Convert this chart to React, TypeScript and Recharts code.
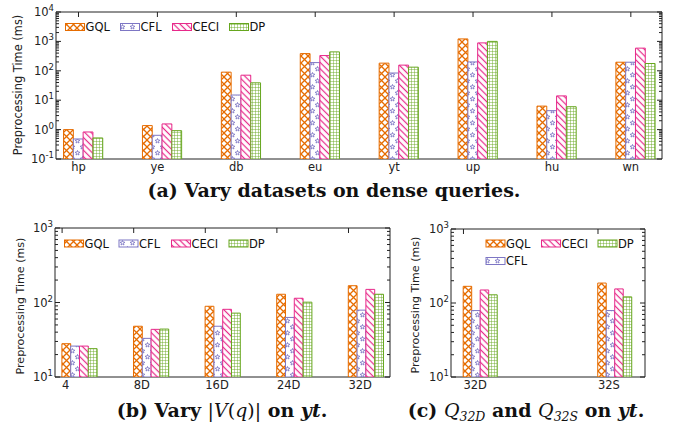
import React from 'react';
import { BarChart, Bar, XAxis, YAxis, ReferenceArea } from 'recharts';

// (a) dense queries, per dataset
const datasets = ['hp', 'ye', 'db', 'eu', 'yt', 'up', 'hu', 'wn'];
const gqlDense = [1.0, 1.37, 90, 385, 182, 1215, 6.3, 196];
const cflDense = [0.48, 0.64, 15, 190, 84, 200, 4.4, 196];
const ceciDense = [0.83, 1.56, 71, 330, 156, 890, 14, 590];
const dpDense = [0.52, 0.92, 39, 440, 133, 1000, 6.0, 177];

// (b) query size on yt
const querySizes = ['4', '8D', '16D', '24D', '32D'];
const gqlSize = [28, 48, 89, 129, 168];
const cflSize = [26, 33, 48, 63, 79];
const ceciSize = [26, 43.6, 81, 114, 150];
const dpSize = [24, 44, 72, 101, 129];

// (c) dense vs sparse on yt
const querySets = ['32D', '32S'];
const gqlSet = [168, 186];
const cflSet = [79, 79];
const ceciSet = [150, 155];
const dpSet = [129, 121];

const series = [
  { key: 'gql', name: 'GQL', color: '#e66c00' },
  { key: 'cfl', name: 'CFL', color: '#7d76c4' },
  { key: 'ceci', name: 'CECI', color: '#e7298a' },
  { key: 'dp', name: 'DP', color: '#66a61e' },
];

const toRows = (names: string[], g: number[], c: number[], e: number[], d: number[]) =>
  names.map((name, i) => ({ i, name, gql: g[i], cfl: c[i], ceci: e[i], dp: d[i] }));

const rowsA = toRows(datasets, gqlDense, cflDense, ceciDense, dpDense);
const rowsB = toRows(querySizes, gqlSize, cflSize, ceciSize, dpSize);
const rowsC = toRows(querySets, gqlSet, cflSet, ceciSet, dpSet);

const logTicks = (lo: number, hi: number) => {
  const out: number[] = [];
  for (let e = lo; e < hi; e++) for (let m = 1; m < 10; m++) out.push(+(m * Math.pow(10, e)).toPrecision(3));
  out.push(Math.pow(10, hi));
  return out;
};

const FONT = 'DejaVu Sans';
const AXIS = '#222';

const starPts = (cx: number, cy: number, R: number, r: number) => {
  const p: string[] = [];
  for (let k = 0; k < 10; k++) {
    const a = -Math.PI / 2 + (k * Math.PI) / 5;
    const rr = k % 2 ? r : R;
    p.push(`${(cx + rr * Math.cos(a)).toFixed(2)},${(cy + rr * Math.sin(a)).toFixed(2)}`);
  }
  return p.join(' ');
};

const Patterns = () => (
  <svg width={0} height={0} style={{ position: 'absolute' }}>
    <defs>
      <pattern id="pat-gql" patternUnits="userSpaceOnUse" width={7} height={7}>
        <rect width={7} height={7} fill="#fff" />
        <path d="M0,0 L7,7 M7,0 L0,7" stroke="#e66c00" strokeWidth={1.3} />
      </pattern>
      <pattern id="pat-cfl" patternUnits="userSpaceOnUse" width={10} height={12}>
        <rect width={10} height={12} fill="#fff" />
        <polygon points={starPts(2.5, 3, 2.5, 1.1)} fill="none" stroke="#7d76c4" strokeWidth={0.9} />
        <polygon points={starPts(7.5, 9, 2.5, 1.1)} fill="none" stroke="#7d76c4" strokeWidth={0.9} />
      </pattern>
      <pattern id="pat-ceci" patternUnits="userSpaceOnUse" width={4.5} height={4.5} patternTransform="rotate(-45)">
        <rect width={4.5} height={4.5} fill="#fff" />
        <line x1={2.25} y1={0} x2={2.25} y2={4.5} stroke="#e7298a" strokeWidth={1.2} />
      </pattern>
      <pattern id="pat-dp" patternUnits="userSpaceOnUse" width={3} height={3}>
        <rect width={3} height={3} fill="#fff" />
        <path d="M0,0 L3,0 M0,0 L0,3" stroke="#66a61e" strokeWidth={0.9} />
      </pattern>
    </defs>
  </svg>
);

type Frame = { left: number; right: number; top: number; bottom: number };

const makeYTick = (f: Frame) => (props: any) => {
  const { y, payload } = props;
  const e = Math.log10(payload.value);
  const major = Math.abs(e - Math.round(e)) < 1e-6;
  const len = major ? 5 : 3;
  return (
    <g>
      <line x1={f.left} x2={f.left + len} y1={y} y2={y} stroke={AXIS} />
      <line x1={f.right} x2={f.right - len} y1={y} y2={y} stroke={AXIS} />
      {major && (
        <text x={f.left - 2} y={y + 4} textAnchor="end" fontSize={11.5} fill={AXIS} fontFamily={FONT}>
          10
          <tspan dy={-5} fontSize={8.5}>
            {Math.round(e)}
          </tspan>
        </text>
      )}
    </g>
  );
};

const makeXTick = (f: Frame, names: string[], shift: number, anchor: 'middle' | 'start') => (props: any) => {
  const { x, payload } = props;
  const lx = x + shift;
  return (
    <g>
      <line x1={lx} x2={lx} y1={f.top} y2={f.top + 5} stroke={AXIS} />
      <text x={lx} y={f.bottom + 12} textAnchor={anchor} fontSize={11.5} fill={AXIS} fontFamily={FONT}>
        {names[payload.value]}
      </text>
    </g>
  );
};

type PanelProps = {
  rows: any[];
  names: string[];
  frame: Frame;
  boxLeft: number;
  width: number;
  height: number;
  xDomain: [number, number];
  yExp: [number, number];
  barSize: number;
  labelShift: number;
  labelAnchor: 'middle' | 'start';
};

const Panel = ({ rows, names, frame, boxLeft, width, height, xDomain, yExp, barSize, labelShift, labelAnchor }: PanelProps) => {
  const yMin = Math.pow(10, yExp[0]);
  const yMax = Math.pow(10, yExp[1]);
  // frame is in page pixels; the chart's svg starts at boxLeft
  const local: Frame = { ...frame, left: frame.left - boxLeft, right: frame.right - boxLeft };
  return (
    <div style={{ position: 'absolute', left: boxLeft, top: 0 }}>
      <BarChart
        width={width}
        height={height}
        data={rows}
        barGap={0}
        margin={{ top: frame.top, right: width - local.right, bottom: 0, left: 0 }}
      >
        <XAxis
          dataKey="i"
          type="number"
          domain={xDomain}
          allowDataOverflow
          ticks={names.map((_, i) => i)}
          interval={0}
          axisLine={false}
          tickLine={false}
          height={height - frame.bottom}
          tick={makeXTick(local, names, labelShift, labelAnchor)}
        />
        <YAxis
          type="number"
          scale="log"
          domain={[yMin, yMax]}
          allowDataOverflow
          ticks={logTicks(yExp[0], yExp[1])}
          interval={0}
          axisLine={false}
          tickLine={false}
          width={local.left}
          tick={makeYTick(local)}
        />
        {series.map((s) => (
          <Bar
            key={s.key}
            dataKey={s.key}
            barSize={barSize}
            fill={`url(#pat-${s.key})`}
            stroke={s.color}
            strokeWidth={1}
            isAnimationActive={false}
          />
        ))}
        <ReferenceArea
          x1={xDomain[0]}
          x2={xDomain[1]}
          y1={yMin}
          y2={yMax}
          fill="none"
          fillOpacity={0}
          stroke={AXIS}
          strokeWidth={1}
          ifOverflow="visible"
        />
      </BarChart>
    </div>
  );
};

const Swatch = ({ x, y, k, color }: { x: number; y: number; k: string; color: string }) => (
  <rect x={x} y={y} width={19} height={7} fill={`url(#pat-${k})`} stroke={color} strokeWidth={1} />
);

const LegendItem = ({ x, y, idx }: { x: number; y: number; idx: number }) => {
  const s = series[idx];
  return (
    <g>
      <Swatch x={x} y={y} k={s.key} color={s.color} />
      <text x={x + 20} y={y + 7.5} fontSize={11.5} fontFamily={FONT} fill="#111">
        {s.name}
      </text>
    </g>
  );
};

const YTitle = ({ x, y, size }: { x: number; y: number; size: number }) => (
  <text transform={`translate(${x},${y}) rotate(-90)`} textAnchor="middle" fontSize={size} fontFamily={FONT} fill="#222">
    Preprocessing Time (ms)
  </text>
);

const frameA: Frame = { left: 56, right: 662, top: 12, bottom: 159 };
const frameB: Frame = { left: 55, right: 390, top: 228, bottom: 377 };
const frameC: Frame = { left: 451, right: 645, top: 229, bottom: 377 };

const CAP = { fontFamily: 'DejaVu Serif', fontWeight: 700 as const, fontSize: 19, fill: '#111' };

export default function App() {
  return (
    <div style={{ position: 'absolute', left: 0, top: 0, width: 681, height: 428, background: '#fff', overflow: 'hidden' }}>
      <Patterns />
      <Panel
        rows={rowsA}
        names={datasets}
        frame={frameA}
        boxLeft={0}
        width={681}
        height={182}
        xDomain={[-0.342, 7.338]}
        yExp={[-1, 4]}
        barSize={9.8}
        labelShift={-4.5}
        labelAnchor="middle"
      />
      <Panel
        rows={rowsB}
        names={querySizes}
        frame={frameB}
        boxLeft={0}
        width={395}
        height={400}
        xDomain={[-0.345, 4.334]}
        yExp={[1, 3]}
        barSize={8.8}
        labelShift={-17.6}
        labelAnchor="start"
      />
      <Panel
        rows={rowsC}
        names={querySets}
        frame={frameC}
        boxLeft={395}
        width={286}
        height={400}
        xDomain={[-0.219, 1.223]}
        yExp={[1, 3]}
        barSize={8.5}
        labelShift={-17}
        labelAnchor="start"
      />
      <svg width={681} height={428} style={{ position: 'absolute', left: 0, top: 0, pointerEvents: 'none' }}>
        <YTitle x={22} y={85} size={11.4} />
        <YTitle x={24} y={306} size={11.1} />
        <YTitle x={419} y={305} size={11.1} />

        <LegendItem x={65.5} y={23.5} idx={0} />
        <LegendItem x={120.5} y={23.5} idx={1} />
        <LegendItem x={172.5} y={23.5} idx={2} />
        <LegendItem x={229.5} y={23.5} idx={3} />

        <LegendItem x={64.5} y={240} idx={0} />
        <LegendItem x={119} y={240} idx={1} />
        <LegendItem x={171.5} y={240} idx={2} />
        <LegendItem x={229} y={240} idx={3} />

        <LegendItem x={486} y={240} idx={0} />
        <LegendItem x={541.5} y={240} idx={2} />
        <LegendItem x={598} y={240} idx={3} />
        <LegendItem x={486} y={257.5} idx={1} />

        <text x={334} y={197} textAnchor="middle" {...CAP}>
          (a) Vary datasets on dense queries.
        </text>
        <text x={222} y={417} textAnchor="middle" {...CAP}>
          (b) Vary <tspan fontWeight={400}>|</tspan>
          <tspan fontWeight={400} fontStyle="italic">V</tspan>
          <tspan fontWeight={400}>(</tspan>
          <tspan fontWeight={400} fontStyle="italic">q</tspan>
          <tspan fontWeight={400}>)|</tspan> on <tspan fontStyle="italic">yt</tspan>.
        </text>
        <text x={526} y={417} textAnchor="middle" {...CAP}>
          (c) <tspan fontWeight={400} fontStyle="italic">Q</tspan>
          <tspan fontWeight={400} fontStyle="italic" fontSize={12.5} dy={4}>32D</tspan>
          <tspan dy={-4}> and </tspan>
          <tspan fontWeight={400} fontStyle="italic">Q</tspan>
          <tspan fontWeight={400} fontStyle="italic" fontSize={12.5} dy={4}>32S</tspan>
          <tspan dy={-4}> on </tspan>
          <tspan fontStyle="italic">yt</tspan>.
        </text>
      </svg>
    </div>
  );
}
